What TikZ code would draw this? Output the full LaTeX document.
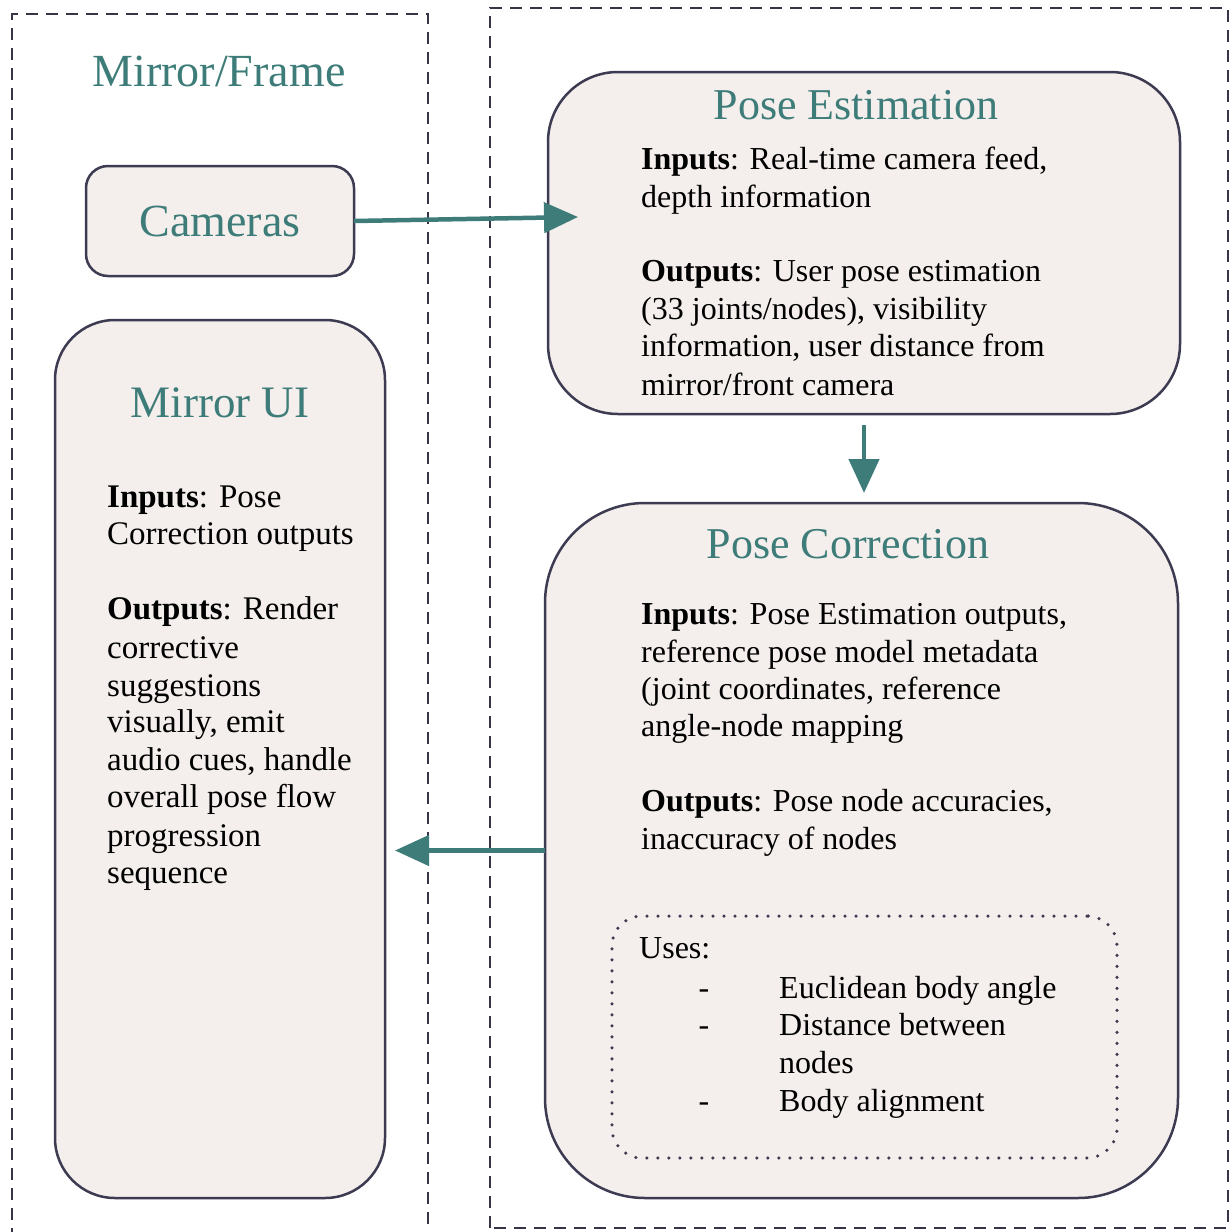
\documentclass[tikz,border=0pt]{standalone}
\usepackage{fontspec}
\setmainfont{Liberation Serif}
\usetikzlibrary{arrows.meta}
\definecolor{tealc}{HTML}{3D7C78}
\definecolor{boxfill}{HTML}{F4EFEC}
\definecolor{edgec}{HTML}{3C3B52}
\definecolor{dashc}{HTML}{353546}
\tikzset{
  box/.style={draw=edgec, fill=boxfill, line width=2.5pt, inner sep=0pt, outer sep=0pt},
  group/.style={draw=dashc, line width=2.4pt, dash pattern=on 12pt off 8pt},
  title/.style={text=tealc, font=\fontsize{44}{50}\selectfont, anchor=base, inner sep=0pt},
  body/.style={text=black, font=\fontsize{32}{38}\selectfont, anchor=base west, inner sep=0pt},
  muibody/.style={body, font=\fontsize{33}{38}\selectfont},
  flow/.style={draw=tealc, line width=4.5pt, -{Triangle[length=34pt,width=30pt]}},
}
\begin{document}
\begin{tikzpicture}[x=1pt,y=-1pt]
\useasboundingbox (0,0) rectangle (1231,1232);
\fill[white] (0,0) rectangle (1231,1232);

% group frames
\draw[group] (12,1240) -- (12,14) -- (428,14) -- (428,1240);
\draw[group] (490,1228) -- (490,8) -- (1228,8) -- (1228,1228) -- cycle;
\node[title, font=\fontsize{46}{52}\selectfont] (frametitle) at (219,86) {Mirror/Frame};

% boxes
\node[box, minimum width=268pt, minimum height=110pt, rounded corners=22pt] (cam) at (220,221) {};
\node[title, font=\fontsize{46}{52}\selectfont] (camtxt) at (220,236) {Cameras};

\node[box, minimum width=330pt, minimum height=878pt, rounded corners=60pt] (mui) at (220,759) {};
\node[title, font=\fontsize{45}{50}\selectfont] (muititle) at (220,417) {Mirror UI};
\node[muibody] (mui1) at (107,507) {\textbf{Inputs}: Pose};
\node[muibody] (mui2) at (107,544) {Correction outputs};
\node[muibody] (mui3) at (107,619) {\textbf{Outputs}: Render};
\node[muibody] (mui4) at (107,658) {corrective};
\node[muibody] (mui5) at (107,696) {suggestions};
\node[muibody] (mui6) at (107,732) {visually, emit};
\node[muibody] (mui7) at (107,770) {audio cues, handle};
\node[muibody] (mui8) at (107,807) {overall pose flow};
\node[muibody] (mui9) at (107,846) {progression};
\node[muibody] (mui10) at (107,883) {sequence};

\node[box, minimum width=632pt, minimum height=342pt, rounded corners=70pt] (pe) at (864,243) {};
\node[title] (petitle) at (856,119) {Pose Estimation};
\node[body] (pe1) at (641,169) {\textbf{Inputs}: Real-time camera feed,};
\node[body] (pe2) at (641,207) {depth information};
\node[body] (pe3) at (641,281) {\textbf{Outputs}: User pose estimation};
\node[body] (pe4) at (641,319) {(33 joints/nodes), visibility};
\node[body] (pe5) at (641,356) {information, user distance from};
\node[body] (pe6) at (641,395) {mirror/front camera};

\node[box, minimum width=633pt, minimum height=695pt, rounded corners=100pt] (pc) at (861.5,850.5) {};
\node[title] (pctitle) at (848,558) {Pose Correction};
\node[body] (pc1) at (641,624) {\textbf{Inputs}: Pose Estimation outputs,};
\node[body] (pc2) at (641,662) {reference pose model metadata};
\node[body] (pc3) at (641,699) {(joint coordinates, reference};
\node[body] (pc4) at (641,736) {angle-node mapping};
\node[body] (pc5) at (641,811) {\textbf{Outputs}: Pose node accuracies,};
\node[body] (pc6) at (641,849) {inaccuracy of nodes};

\node[draw=edgec, line width=3.5pt, dash pattern=on 0pt off 11pt, line cap=round, rounded corners=30pt,
      minimum width=505pt, minimum height=242pt, inner sep=0pt] (uses) at (864.5,1037) {};
\node[body] (uses0) at (639,958) {Uses:};
\node[body, anchor=base] (d1) at (704,998) {-};
\node[body, anchor=base] (d2) at (704,1035) {-};
\node[body, anchor=base] (d3) at (704,1111) {-};
\node[body] (u1) at (779,998) {Euclidean body angle};
\node[body] (u2) at (779,1035) {Distance between};
\node[body] (u3) at (779,1073) {nodes};
\node[body] (u4) at (779,1111) {Body alignment};

% connectors
\coordinate (camtip) at (578,217);
\draw[flow] (cam.east) -- (camtip);
\draw[flow, shorten <=11pt, shorten >=10pt] (pe.south) -- (pe.south |- pc.north);
\draw[flow, shorten >=10pt] (pc.west) -- (pc.west -| mui.east);
\end{tikzpicture}
\end{document}
